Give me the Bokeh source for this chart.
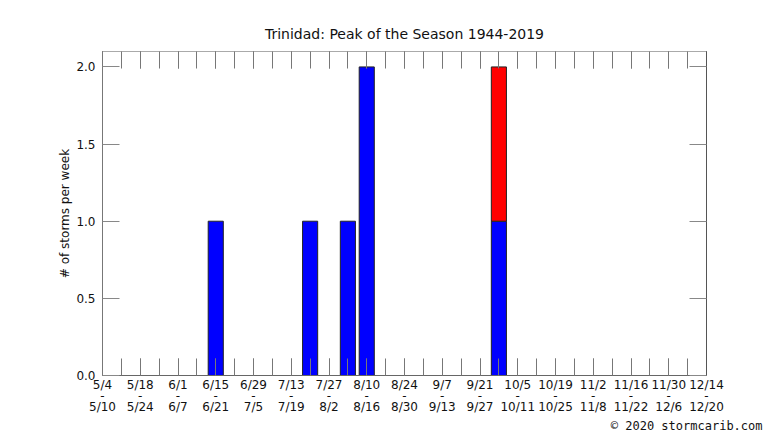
from bokeh.plotting import figure
from bokeh.models import (Range1d, FixedTicker, LinearAxis, Title, PrintfTickFormatter)
from bokeh.embed import file_html
from bokeh.resources import INLINE

# ---- data ----
title_text = "Trinidad: Peak of the Season 1944-2019"
y_label = "# of storms per week"
credit = "\u00a9 2020 stormcarib.com"

# week index 0 = 5/4 ... 32 = 12/14
week_index = list(range(33))
tick_starts = ["5/4", "5/18", "6/1", "6/15", "6/29", "7/13", "7/27", "8/10", "8/24",
               "9/7", "9/21", "10/5", "10/19", "11/2", "11/16", "11/30", "12/14"]
tick_ends = ["5/10", "5/24", "6/7", "6/21", "7/5", "7/19", "8/2", "8/16", "8/30",
             "9/13", "9/27", "10/11", "10/25", "11/8", "11/22", "12/6", "12/20"]
blue_counts = [0, 0, 0, 0, 0, 0, 1, 0, 0, 0, 0, 1, 0, 1, 2, 0, 0, 0, 0, 0, 0, 1,
               0, 0, 0, 0, 0, 0, 0, 0, 0, 0, 0]
red_counts = [0, 0, 0, 0, 0, 0, 0, 0, 0, 0, 0, 0, 0, 0, 0, 0, 0, 0, 0, 0, 0, 1,
              0, 0, 0, 0, 0, 0, 0, 0, 0, 0, 0]
y_ticks = [0.0, 0.5, 1.0, 1.5, 2.0]

FONT = "DejaVu Sans"

p = figure(width=766, height=431, output_backend="svg", toolbar_location=None,
           x_range=Range1d(0, 32), y_range=Range1d(0, 2.1),
           min_border_left=102, min_border_right=60, min_border_top=51, min_border_bottom=56,
           x_axis_location=None, y_axis_location=None)
p.grid.visible = False
p.outline_line_color = "#999999"
p.background_fill_color = "white"
p.border_fill_color = "white"

# bars
bx, bb, bt = [], [], []
rx, rb, rt = [], [], []
for i, b, r in zip(week_index, blue_counts, red_counts):
    if b > 0:
        bx.append(i); bb.append(0); bt.append(b)
    if r > 0:
        rx.append(i); rb.append(b); rt.append(b + r)
p.vbar(x=bx, bottom=bb, top=bt, width=0.8, fill_color="#0000ff", line_color="#222222", line_width=1)
p.vbar(x=rx, bottom=rb, top=rt, width=0.8, fill_color="#ff0000", line_color="#222222", line_width=1)

major_x = [2 * k for k in range(len(tick_starts))]
overrides = {m: f"{s}\n-\n{e}" for m, s, e in zip(major_x, tick_starts, tick_ends)}

def style_x(ax, labels):
    ax.ticker = FixedTicker(ticks=major_x, minor_ticks=week_index)
    ax.major_tick_in = 17
    ax.major_tick_out = 0
    ax.minor_tick_in = 17
    ax.minor_tick_out = 0
    ax.major_tick_line_color = "#777777"
    ax.minor_tick_line_color = "#777777"
    ax.axis_line_color = "#666666"
    if labels:
        ax.major_label_overrides = overrides
        ax.major_label_text_font = FONT
        ax.major_label_text_font_size = "12px"
        ax.major_label_text_color = "#111111"
        ax.major_label_text_line_height = 0.82
        ax.major_label_standoff = 2
    else:
        ax.major_label_overrides = {m: "" for m in major_x}
        ax.major_label_text_font_size = "1px"
        ax.major_label_standoff = 0

def style_y(ax, labels):
    ax.ticker = FixedTicker(ticks=y_ticks, minor_ticks=[])
    ax.major_tick_in = 17
    ax.major_tick_out = 0
    ax.minor_tick_in = 0
    ax.minor_tick_out = 0
    ax.major_tick_line_color = "#888888"
    ax.axis_line_color = "#777777"
    if labels:
        ax.formatter = PrintfTickFormatter(format="%.1f")
        ax.major_label_text_font = FONT
        ax.major_label_text_font_size = "12px"
        ax.major_label_text_color = "#111111"
        ax.major_label_standoff = 7
        ax.axis_label = y_label
        ax.axis_label_text_font = FONT
        ax.axis_label_text_font_size = "12px"
        ax.axis_label_text_font_style = "normal"
        ax.axis_label_text_color = "#111111"
        ax.axis_label_standoff = 1
    else:
        ax.major_label_overrides = {t: "" for t in y_ticks}
        ax.major_label_text_font_size = "1px"
        ax.major_label_standoff = 0

xb = LinearAxis(); style_x(xb, True); p.add_layout(xb, "below")
xt = LinearAxis(); style_x(xt, False); xt.axis_line_color = "#aaaaaa"; p.add_layout(xt, "above")
yl = LinearAxis(); style_y(yl, True); p.add_layout(yl, "left")
yr = LinearAxis(); style_y(yr, False); yr.axis_line_color = "#555555"; p.add_layout(yr, "right")

p.add_layout(Title(text=title_text, align="center", text_font=FONT, text_font_size="14px",
                   text_font_style="normal", text_color="#111111", standoff=20), "above")
p.add_layout(Title(text=credit, align="right", offset=-56, text_font="DejaVu Sans Mono",
                   text_font_size="12px", text_font_style="normal", text_color="#111111",
                   text_line_height=0.62, standoff=-2), "below")

open("out.html", "w").write(file_html(p, INLINE))
